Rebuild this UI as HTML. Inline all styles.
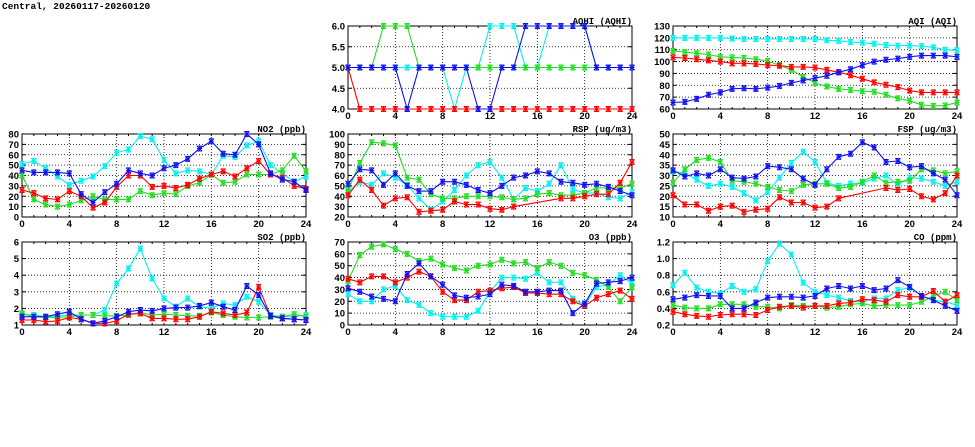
<!DOCTYPE html>
<html><head><meta charset="utf-8"><style>
html,body{margin:0;padding:0;background:#fff;width:975px;height:447px;overflow:hidden}
svg text{font-family:"Liberation Sans",sans-serif;font-weight:bold;font-size:9.5px;fill:#000}
svg text.ttl{font-family:"Liberation Mono",monospace;font-size:9px}
</style></head><body>
<svg id="chart" width="975" height="447" xmlns="http://www.w3.org/2000/svg">
<text x="2" y="9" style="font-family:'Liberation Mono',monospace;font-size:9.5px">Central, 20260117-20260120</text>
</svg>
<script>
const hours=[0,1,2,3,4,5,6,7,8,9,10,11,12,13,14,15,16,17,18,19,20,21,22,23,24];
const xTicks=[0,4,8,12,16,20,24];
const seriesNames=['red','green','blue','cyan'];
const seriesColors={red:'#ff0000',green:'#22dd22',blue:'#1010f0',cyan:'#00f0f0'};
const drawOrder=['cyan','green','red','blue'];

const aqhiTicks=['4.0','4.5','5.0','5.5','6.0'];
const aqhiRed=[5,4,4,4,4,4,4,4,4,4,4,4,4,4,4,4,4,4,4,4,4,4,4,4,4];
const aqhiGreen=[5,5,5,6,6,6,5,5,5,5,5,5,5,5,5,5,5,5,5,5,5,5,5,5,5];
const aqhiBlue=[5,5,5,5,5,4,5,5,5,5,5,4,4,5,5,6,6,6,6,6,6,5,5,5,5];
const aqhiCyan=[5,5,5,5,5,5,5,5,5,4,5,5,6,6,6,5,5,6,6,6,6,5,5,5,5];

const aqiTicks=['60','70','80','90','100','110','120','130'];
const aqiRed=[103.5,103,102,101,100,98.5,98.5,98,97,96.5,95.5,95.5,95,93,91,88.5,85.5,82.5,80.5,78.5,75.5,74,74,74,74];
const aqiGreen=[109,108,107,106,104,103.5,103,102,100.5,97,93,87,82,79,77,76,75,74.5,72,69,67,63.5,62.5,63,65.5];
const aqiBlue=[65.5,66,68.5,72,74,77,77.5,77,78,79.5,82,84,86,88,91,93.5,97,100,101.5,102.5,104,105,105,105,104];
const aqiCyan=[120,120,120,120,120,119.5,119,119,119,119,119,119,119,118,117.5,116.5,116,115,114,113.5,113.5,113,112,110,109.5];

const no2Ticks=['0','10','20','30','40','50','60','70','80'];
const no2Red=[26,23,18,17,25,20,9,14,29,40,40,29,30,28,31,37,41,44,39,47,54,41,38,30,27];
const no2Green=[40,17,12,10,12,16,20,17,17,17,25,21,23,22,30,33,41,33,34,41,41,41,45,59,44];
const no2Blue=[45,43,43,43,42,22,14,24,32,45,42,40,47,50,56,66,73,61,60,80,70,42,36,34,26];
const no2Cyan=[51,54,47,39,31,35,39,49,62,65,78,75,55,42,45,44,41,59,58,69,73,50,42,34,39];

const rspTicks=['20','30','40','50','60','70','80','90','100'];
const rspRed=[41,56,46,31,38,39,25,26,27,35,32,32,28,27,30,null,null,null,38,38,40,42,42,53,73];
const rspGreen=[46,72,92,91,89,58,56,42,38,38,40,40,40,39,37,38,42,43,41,41,43,48,48,48,52];
const rspBlue=[52,66,65,51,62,50,45,45,54,54,51,46,43,50,58,60,64,62,54,53,51,52,49,45,41];
const rspCyan=[44,54,51,62,58,51,38,27,35,46,60,70,73,58,37,48,45,52,70,47,43,43,39,38,44];

const fspTicks=['10','15','20','25','30','35','40','45','50'];
const fspRed=[20.5,16,16,13,15,15.5,12.5,13.5,14,19.5,17,17,14.5,15,19,null,null,null,24,23,23.5,20,18.5,21.5,30];
const fspGreen=[26.5,33,37.5,38.5,36.5,27.5,27,26,24.5,23,22.5,25.5,26,26,24,24.5,27,30,26.5,27,27.5,33,32.5,31,32];
const fspBlue=[32.5,29.5,31,30,33,29,28.5,29.5,34.5,34,33,28.5,25.5,33,39,40.5,46,43.5,36.5,37,34,34.5,31,28,20.5];
const fspCyan=[32,31,28,25,26,24.5,21.5,18,22,29,36,41.5,36.5,26.5,25,26,26.5,28.5,30,25.5,29,28.5,27,25,27];

const so2Ticks=['1','2','3','4','5','6'];
const so2Red=[1.3,1.3,1.2,1.25,1.45,1.35,1.1,1.1,1.25,1.65,1.7,1.4,1.4,1.35,1.35,1.5,1.8,1.7,1.6,1.75,3.3,1.55,1.4,1.35,1.3];
const so2Green=[1.7,1.5,1.45,1.45,1.5,1.6,1.6,1.55,1.55,1.6,1.75,1.6,1.65,1.6,1.55,1.55,1.75,1.6,1.5,1.45,1.45,1.5,1.5,1.65,1.5];
const so2Blue=[1.5,1.5,1.5,1.65,1.8,1.35,1.1,1.25,1.5,1.8,1.9,1.85,2.0,2.05,2.05,2.15,2.35,2.1,1.9,3.35,2.8,1.55,1.4,1.35,1.3];
const so2Cyan=[1.63,1.6,1.5,1.55,1.6,1.6,1.6,1.9,3.5,4.4,5.6,3.8,2.6,2.1,2.6,2.1,2.0,2.3,2.2,2.7,2.4,1.6,1.5,1.5,1.6];

const o3Ticks=['0','10','20','30','40','50','60','70'];
const o3Red=[39,36,41,41,36,40,45,41,28,21,21,28,29,31,32,27,27,26,26,20,16,23,26,29,22];
const o3Green=[37,59,66,68,64,60,54,56,51,48,46,50,51,55,52,53,48,53,50,44,42,38,32,20,32];
const o3Blue=[31,28,24,22,20,43,52,41,34,25,23,24,26,34,33,28,28,29,29,10,18,35,36,37,40];
const o3Cyan=[26,20,20,30,33,21,17,10,7,7,7,12,28,40,40,39,44,36,36,22,17,32,34,42,35];

const coTicks=['0.2','0.4','0.6','0.8','1.0','1.2'];
const coRed=[0.36,0.33,0.31,0.30,0.32,0.33,0.33,0.32,0.38,0.42,0.43,0.41,0.43,0.43,0.46,0.47,0.51,0.5,0.48,0.56,0.54,0.54,0.61,0.48,0.56];
const coGreen=[0.44,0.41,0.40,0.40,0.45,0.45,0.45,0.42,0.42,0.40,0.44,0.43,0.43,0.41,0.42,0.45,0.46,0.43,0.44,0.44,0.44,0.48,0.55,0.6,0.5];
const coBlue=[0.51,0.53,0.56,0.55,0.55,0.4,0.4,0.47,0.53,0.54,0.54,0.53,0.55,0.64,0.67,0.64,0.67,0.62,0.64,0.74,0.66,0.55,0.5,0.43,0.37];
const coCyan=[0.68,0.83,0.65,0.6,0.58,0.67,0.6,0.63,0.97,1.18,1.05,0.71,0.6,0.56,0.53,0.49,0.48,0.52,0.52,0.62,0.65,0.55,0.5,0.48,0.44];

const NS='http://www.w3.org/2000/svg';
const svg=document.getElementById('chart');
function mk(tag,attrs,parent){const e=document.createElementNS(NS,tag);for(const k in attrs)e.setAttribute(k,attrs[k]);(parent||svg).appendChild(e);return e;}

function panel(key,title,px,py,ticks,data){
  const W=284,H=83;
  const g=mk('g',{});
  
  
  const ymin=parseFloat(ticks[0]),ymax=parseFloat(ticks[ticks.length-1]);
  const xs=v=>px+v/24*W;
  const ys=v=>py+H-(v-ymin)/(ymax-ymin)*H;
  ticks.forEach((t,i)=>{
    const y=ys(parseFloat(t));
    if(i>0&&i<ticks.length-1){const l=mk('line',{x1:px,x2:px+W,y1:y,y2:y,stroke:'#000','stroke-width':0.8,'stroke-dasharray':'1,2'},g);
    }
    mk('line',{x1:px,x2:px+4,y1:y,y2:y,stroke:'#000'},g);
    mk('line',{x1:px+W-4,x2:px+W,y1:y,y2:y,stroke:'#000'},g);
    const tx=mk('text',{x:px-3,y:y+3.5,'text-anchor':'end'},g);tx.textContent=t;
    
  });
  xTicks.forEach((t,i)=>{
    const x=xs(t);
    if(i>0&&i<xTicks.length-1){const l=mk('line',{x1:x,x2:x,y1:py,y2:py+H,stroke:'#000','stroke-width':0.8,'stroke-dasharray':'1,2'},g);
    }
    const tx=mk('text',{x:x,y:py+H+10,'text-anchor':'middle'},g);tx.textContent=t;
    
  });
  hours.forEach(h=>{const x=xs(h);mk('line',{x1:x,x2:x,y1:py+H,y2:py+H-2,stroke:'#000'},g);mk('line',{x1:x,x2:x,y1:py,y2:py+2,stroke:'#000'},g);});
  const fr=mk('rect',{x:px,y:py,width:W,height:H,fill:'none',stroke:'#000','stroke-width':1},g);
  
  const tt=mk('text',{x:px+W,y:py-2,'text-anchor':'end','class':'ttl'},g);tt.textContent=title;
  
  const cid='clip-'+key;
  const cp=mk('clipPath',{id:cid},g);mk('rect',{x:px-4,y:py-4,width:W+8,height:H+8},cp);
  const sg=mk('g',{'clip-path':'url(#'+cid+')'},g);
  drawOrder.forEach(s=>{
    const vals=data[s];const c=seriesColors[s];
    let d='';
    vals.forEach((v,i)=>{if(v===null)return;d+=(d?'L':'M')+xs(hours[i]).toFixed(1)+','+ys(v).toFixed(1);});
    const p=mk('path',{d:d,fill:'none',stroke:c,'stroke-width':1.1},sg);
    
    
    vals.forEach((v,i)=>{
      if(v===null)return;
      const x=xs(hours[i]),y=ys(v),r=2.5;
      const m=mk('path',{d:`M${x-r},${y-r}L${x+r},${y+r}M${x-r},${y+r}L${x+r},${y-r}M${x-r},${y}L${x+r},${y}M${x},${y-r}L${x},${y+r}M${x-r},${y-r}H${x+r}M${x-r},${y+r}H${x+r}`,stroke:c,'stroke-width':1,fill:'none'},sg);
      
      
    });
  });
}
panel('aqhi','AQHI (AQHI)',348,26,aqhiTicks,{red:aqhiRed,green:aqhiGreen,blue:aqhiBlue,cyan:aqhiCyan});
panel('aqi','AQI (AQI)',673,26,aqiTicks,{red:aqiRed,green:aqiGreen,blue:aqiBlue,cyan:aqiCyan});
panel('no2','NO2 (ppb)',22,134,no2Ticks,{red:no2Red,green:no2Green,blue:no2Blue,cyan:no2Cyan});
panel('rsp','RSP (ug/m3)',348,134,rspTicks,{red:rspRed,green:rspGreen,blue:rspBlue,cyan:rspCyan});
panel('fsp','FSP (ug/m3)',673,134,fspTicks,{red:fspRed,green:fspGreen,blue:fspBlue,cyan:fspCyan});
panel('so2','SO2 (ppb)',22,242,so2Ticks,{red:so2Red,green:so2Green,blue:so2Blue,cyan:so2Cyan});
panel('o3','O3 (ppb)',348,242,o3Ticks,{red:o3Red,green:o3Green,blue:o3Blue,cyan:o3Cyan});
panel('co','CO (ppm)',673,242,coTicks,{red:coRed,green:coGreen,blue:coBlue,cyan:coCyan});
</script>
</body></html>
